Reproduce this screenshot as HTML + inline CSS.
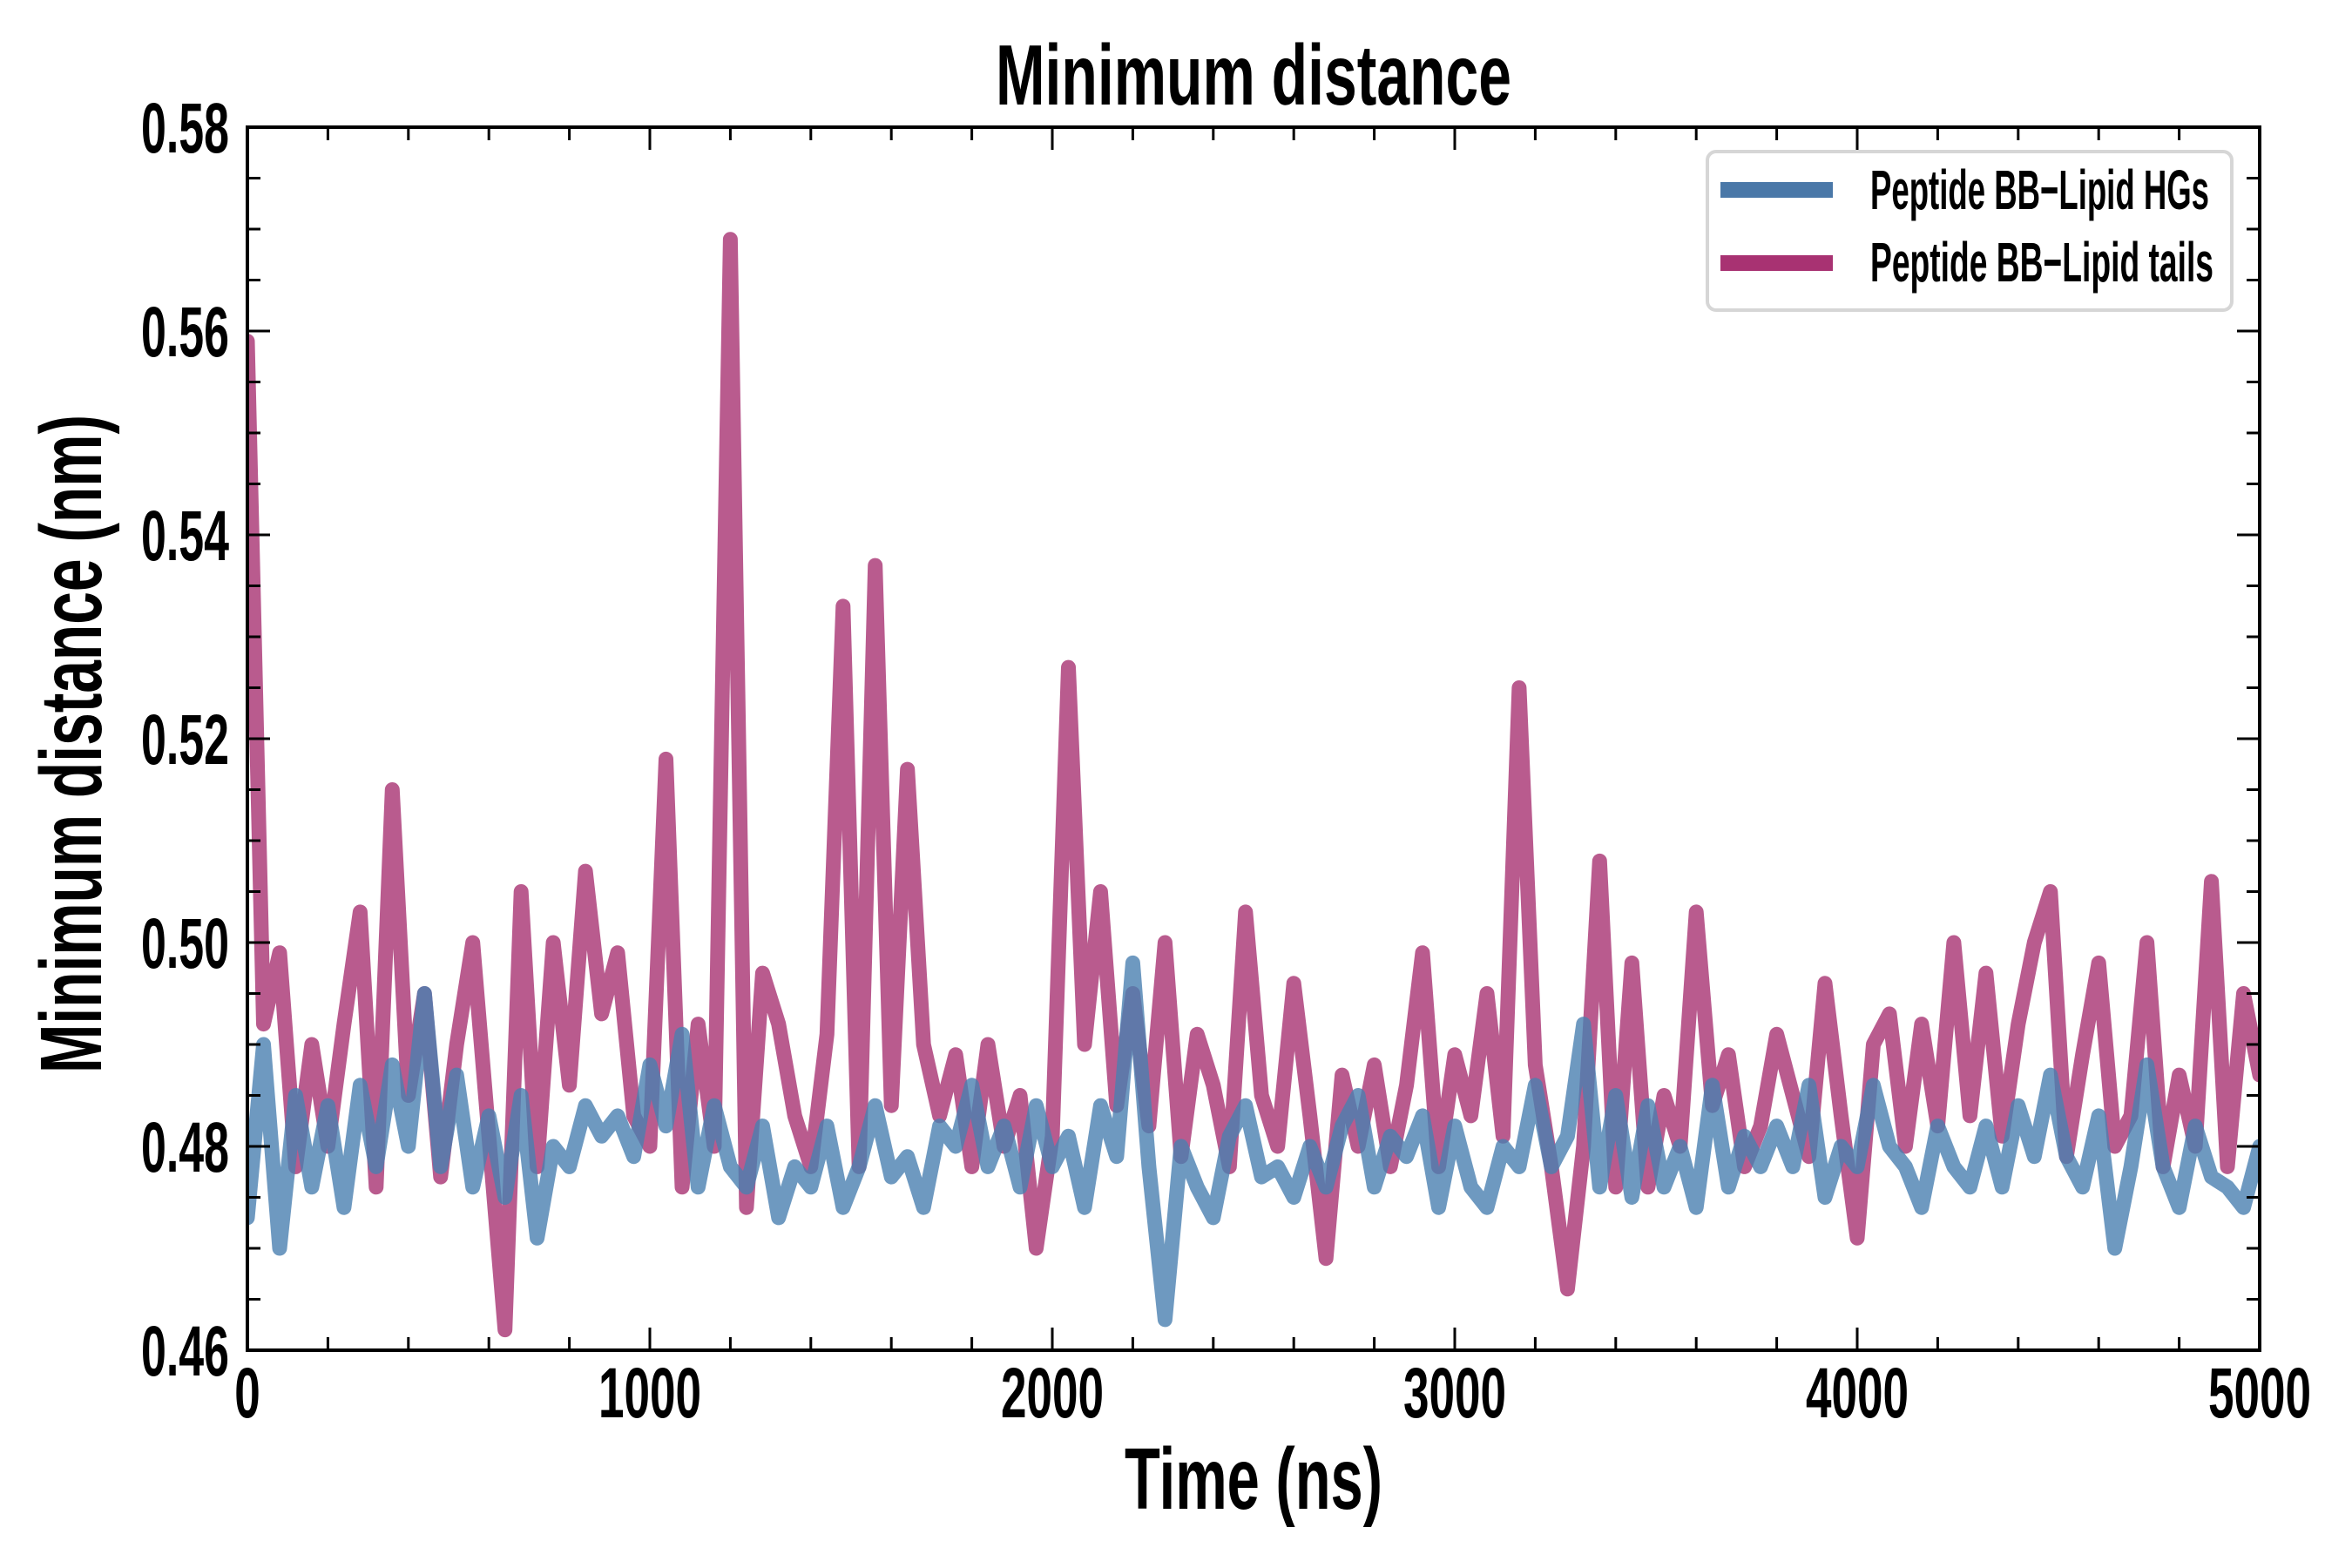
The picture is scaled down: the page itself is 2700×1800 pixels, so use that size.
<!DOCTYPE html>
<html><head><meta charset="utf-8"><style>
html,body{margin:0;padding:0;background:#fff;}
svg{display:block;font-family:"Liberation Sans",sans-serif;font-weight:bold;}
</style></head><body>
<svg id="chart" width="2700" height="1800" viewBox="0 0 2700 1800" xmlns="http://www.w3.org/2000/svg">
<rect width="2700" height="1800" fill="#fff"/>
<g id="series"></g>
<g id="axes"></g>
<text x="1439" y="120" text-anchor="middle" font-size="98" textLength="592" lengthAdjust="spacingAndGlyphs">Minimum distance</text>
<text x="1439" y="1732" text-anchor="middle" font-size="100" textLength="296" lengthAdjust="spacingAndGlyphs">Time (ns)</text>
<text transform="translate(116,854) rotate(-90)" text-anchor="middle" font-size="100" textLength="756" lengthAdjust="spacingAndGlyphs">Minimum distance (nm)</text>
<g>
<rect x="1960" y="174" width="602" height="182" rx="10" fill="#fff" stroke="#d6d6d6" stroke-width="4"/>
<line x1="1975" y1="218" x2="2104" y2="218" stroke="#4a78a8" stroke-width="18"/>
<text x="2147" y="240" font-size="64" textLength="389" lengthAdjust="spacingAndGlyphs">Peptide BB−Lipid HGs</text>
<line x1="1975" y1="302" x2="2104" y2="302" stroke="#a83272" stroke-width="18"/>
<text x="2147" y="323" font-size="64" textLength="394" lengthAdjust="spacingAndGlyphs">Peptide BB−Lipid tails</text>
</g>
</svg>
<script>
const times = [0,40,80,120,160,200,240,280,320,360,400,440,480,520,560,600,640,680,720,760,800,840,880,920,960,1000,1040,1080,1120,1160,1200,1240,1280,1320,1360,1400,1440,1480,1520,1560,1600,1640,1680,1720,1760,1800,1840,1880,1920,1960,2000,2040,2080,2120,2160,2200,2240,2280,2320,2360,2400,2440,2480,2520,2560,2600,2640,2680,2720,2760,2800,2840,2880,2920,2960,3000,3040,3080,3120,3160,3200,3240,3280,3320,3360,3400,3440,3480,3520,3560,3600,3640,3680,3720,3760,3800,3840,3880,3920,3960,4000,4040,4080,4120,4160,4200,4240,4280,4320,4360,4400,4440,4480,4520,4560,4600,4640,4680,4720,4760,4800,4840,4880,4920,4960,5000];
const tailsValues = [0.559,0.492,0.499,0.478,0.490,0.480,0.492,0.503,0.476,0.515,0.485,0.495,0.477,0.490,0.500,0.481,0.462,0.505,0.478,0.500,0.486,0.507,0.493,0.499,0.483,0.480,0.518,0.476,0.492,0.480,0.569,0.474,0.497,0.492,0.483,0.478,0.491,0.533,0.478,0.537,0.484,0.517,0.490,0.483,0.489,0.478,0.490,0.480,0.485,0.470,0.481,0.527,0.490,0.505,0.484,0.495,0.482,0.500,0.479,0.491,0.486,0.478,0.503,0.485,0.480,0.496,0.483,0.469,0.487,0.480,0.488,0.478,0.486,0.499,0.478,0.489,0.483,0.495,0.481,0.525,0.488,0.478,0.466,0.480,0.508,0.476,0.498,0.476,0.485,0.480,0.503,0.484,0.489,0.478,0.482,0.491,0.485,0.479,0.496,0.483,0.471,0.490,0.493,0.480,0.492,0.482,0.500,0.483,0.497,0.481,0.492,0.500,0.505,0.479,0.489,0.498,0.480,0.483,0.500,0.478,0.487,0.480,0.506,0.478,0.495,0.487];
const hgsValues = [0.473,0.490,0.470,0.485,0.476,0.484,0.474,0.486,0.478,0.488,0.480,0.495,0.478,0.487,0.476,0.483,0.475,0.485,0.471,0.480,0.478,0.484,0.481,0.483,0.479,0.488,0.482,0.491,0.476,0.484,0.478,0.476,0.482,0.473,0.478,0.476,0.482,0.474,0.478,0.484,0.477,0.479,0.474,0.482,0.480,0.486,0.478,0.482,0.476,0.484,0.478,0.481,0.474,0.484,0.479,0.498,0.478,0.463,0.480,0.476,0.473,0.481,0.484,0.477,0.478,0.475,0.480,0.476,0.482,0.485,0.476,0.481,0.479,0.483,0.474,0.482,0.476,0.474,0.480,0.478,0.486,0.478,0.481,0.492,0.476,0.485,0.475,0.484,0.476,0.480,0.474,0.486,0.476,0.481,0.478,0.482,0.478,0.486,0.475,0.480,0.478,0.486,0.480,0.478,0.474,0.482,0.478,0.476,0.482,0.476,0.484,0.479,0.487,0.479,0.476,0.483,0.470,0.478,0.488,0.478,0.474,0.482,0.477,0.476,0.474,0.480];
const xTickLabels = ["0","1000","2000","3000","4000","5000"];
const yTickLabels = ["0.46","0.48","0.50","0.52","0.54","0.56","0.58"];

const NS = "http://www.w3.org/2000/svg";
const L = 284, R = 2594, T = 146, B = 1550;
const xMin = 0, xMax = 5000, yMin = 0.46, yMax = 0.58;
function xs(v){ return L + (v - xMin) / (xMax - xMin) * (R - L); }
function ys(v){ return B - (v - yMin) / (yMax - yMin) * (B - T); }

const seriesG = document.getElementById('series');
function drawSeries(vals, color, name){
  let d = '';
  for (let i = 0; i < vals.length; i++) {
    d += (i ? 'L' : 'M') + xs(times[i]).toFixed(1) + ',' + ys(vals[i]).toFixed(1);
  }
  const p = document.createElementNS(NS, 'path');
  p.setAttribute('d', d);
  p.setAttribute('fill', 'none');
  p.setAttribute('stroke', color);
  p.setAttribute('stroke-width', '17');
  p.setAttribute('stroke-opacity', '0.8');
  p.setAttribute('stroke-linejoin', 'round');
  p.setAttribute('stroke-linecap', 'round');
  
  
  seriesG.appendChild(p);
}
const clip = document.createElementNS(NS,'clipPath');
clip.setAttribute('id','plotclip');
const cr = document.createElementNS(NS,'rect');
cr.setAttribute('x',L); cr.setAttribute('y',T); cr.setAttribute('width',R-L); cr.setAttribute('height',B-T);
clip.appendChild(cr);
document.getElementById('chart').appendChild(clip);
seriesG.setAttribute('clip-path','url(#plotclip)');
drawSeries(tailsValues, '#a83272', 'series-lipid-tails');
drawSeries(hgsValues, '#4a7fb0', 'series-lipid-hgs');

const axes = document.getElementById('axes');
function line(x1,y1,x2,y2,w,name){
  const l = document.createElementNS(NS,'line');
  l.setAttribute('x1',x1); l.setAttribute('y1',y1); l.setAttribute('x2',x2); l.setAttribute('y2',y2);
  l.setAttribute('stroke','#000'); l.setAttribute('stroke-width',w);
  
  
  axes.appendChild(l);
}
for (let v = 0; v <= 5000; v += 200) {
  const major = v % 1000 === 0;
  const len = major ? 26 : 15;
  const x = xs(v);
  line(x, B, x, B - len, 3, 'x-tick');
  line(x, T, x, T + len, 3, 'x-tick-top');
}
for (let k = 0; k <= 24; k++) {
  const v = yMin + k * 0.005;
  const major = k % 4 === 0;
  const len = major ? 26 : 15;
  const y = ys(v);
  line(L, y, L + len, y, 3, 'y-tick');
  line(R, y, R - len, y, 3, 'y-tick-right');
}
const frame = document.createElementNS(NS,'rect');
frame.setAttribute('x',L); frame.setAttribute('y',T); frame.setAttribute('width',R-L); frame.setAttribute('height',B-T);
frame.setAttribute('fill','none'); frame.setAttribute('stroke','#000'); frame.setAttribute('stroke-width','4');


axes.appendChild(frame);

function label(txt, x, y, anchor, width, name){
  const t = document.createElementNS(NS,'text');
  t.textContent = txt;
  t.setAttribute('x', x); t.setAttribute('y', y);
  t.setAttribute('text-anchor', anchor);
  t.setAttribute('font-size', '82');
  t.setAttribute('textLength', width);
  t.setAttribute('lengthAdjust', 'spacingAndGlyphs');
  
  
  axes.appendChild(t);
}
xTickLabels.forEach(s => {
  label(s, xs(parseFloat(s)), 1627, 'middle', s.length * 29.5, 'x-tick-label');
});
yTickLabels.forEach(s => {
  label(s, 263, ys(parseFloat(s)) + 29, 'end', 101, 'y-tick-label');
});
</script>
</body></html>
